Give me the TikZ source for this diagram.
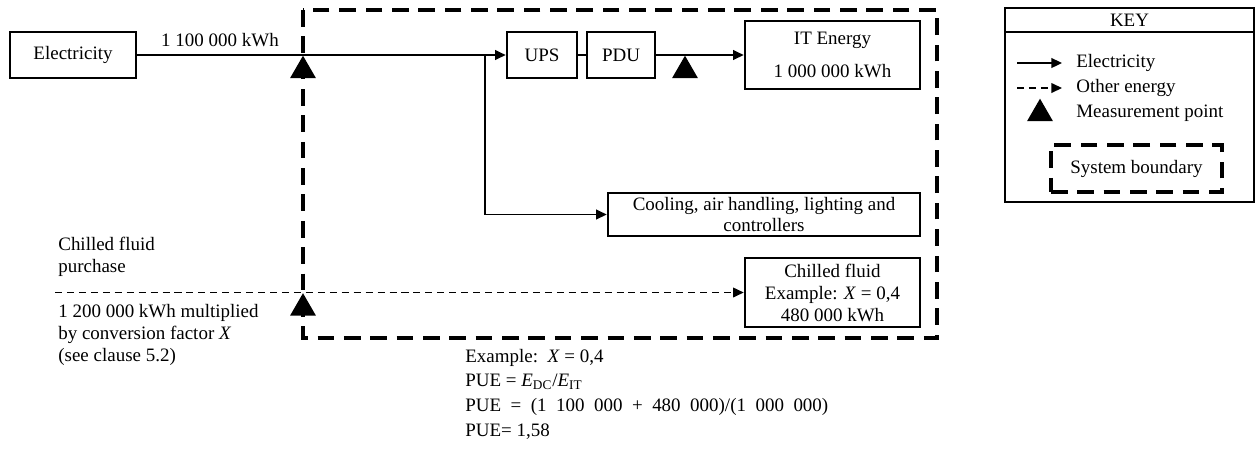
\documentclass[tikz,border=0pt]{standalone}
\usepackage{fontspec}
\setmainfont{Liberation Serif}
\usetikzlibrary{
  arrows.meta,
  positioning,
  shapes.geometric
}

\begin{document}
\begin{tikzpicture}[
  x=0.02cm, y=-0.02cm,
  every node/.style={font=\fontsize{10.8}{12.5}\selectfont},
  box/.style={draw, line width=1.5pt, align=center, inner sep=2pt},
  flow/.style={line width=1.05pt, -{Triangle[length=6pt,width=5.5pt]}},
  other/.style={flow, line width=0.75pt, dash pattern=on 4pt off 2.8pt},
  boundary/.style={line width=2.3pt, dash pattern=on 9.5pt off 5.5pt},
  meter/.style={regular polygon, regular polygon sides=3, fill=black, inner sep=0pt, minimum size=0.6cm, anchor=corner 1},
  txt/.style={align=left, anchor=west, inner sep=0pt}
]
  \useasboundingbox (0,0) rectangle (1259,461);

  % system boundary
  \draw[boundary] (303,10) rectangle (937,338);

  % boxes
  \node[box, minimum width=2.52cm, minimum height=0.92cm] (elec) at (73,55) {Electricity};
  \node[box, minimum width=1.4cm, minimum height=0.92cm] (ups) at (542,55) {UPS};
  \node[box, minimum width=1.36cm, minimum height=0.92cm] (pdu) at (621,55) {PDU};
  \node[box, minimum width=3.5cm, minimum height=1.36cm] (it) at (832.5,55) {IT Energy\\[6pt]1 000 000 kWh};
  \node[box, minimum width=6.24cm, minimum height=0.86cm] (cool) at (764,214.5) {Cooling, air handling, lighting and\\controllers};
  \node[box, minimum width=3.5cm, minimum height=1.38cm] (chill) at (832.5,292.5) {Chilled fluid\\Example: \textit{X} = 0,4\\480 000 kWh};

  % electricity flows
  \coordinate (split) at (485,55);
  \draw[flow] (elec.east) -- (ups.west);
  \node (elecqty) at (220,40) {1 100 000 kWh};
  \draw[line width=1.05pt] (ups.east) -- (pdu.west);
  \draw[flow] (pdu.east) -- (it.west);
  \draw[flow] (split) |- (cool.west);

  % chilled fluid (other energy)
  \coordinate (fluidsrc) at (55,292.5);
  \draw[other] (fluidsrc) -- (chill.west);

  % measurement points
  \node[meter] (m1) at (303,55) {};
  \node[meter] (m2) at (685,55) {};
  \node[meter] (m3) at (303,292.5) {};

  % side notes
  \node[txt] (purchase) at (58,257) {Chilled fluid\\purchase};
  \node[txt] (factor) at (58,335) {1 200 000 kWh multiplied\\by conversion factor \textit{X}\\(see clause 5.2)};
  \node[txt, font=\fontsize{10.8}{14}\selectfont] (pue) at (465,394) {Example:\ \ \textit{X} = 0,4\\PUE = \textit{E}\textsubscript{DC}/\textit{E}\textsubscript{IT}\\{\spaceskip=0.5em PUE = (1 100 000 + 480 000)/(1 000 000)}\\PUE= 1,58};

  % key
  \draw[line width=1.5pt] (1005,8) rectangle (1254,202);
  \draw[line width=1.5pt] (1005,32) -- (1254,32);
  \node (keytitle) at (1129.5,20) {KEY};
  \draw[flow] (1017,63) -- (1062,63);
  \node[txt] (keyelec) at (1076,63) {Electricity};
  \draw[other] (1017,88) -- (1062,88);
  \node[txt] (keyother) at (1076,88) {Other energy};
  \node[meter] (keymeter) at (1040,98) {};
  \node[txt] (keymp) at (1076,113) {Measurement point};
  \node[draw, boundary, minimum width=3.42cm, minimum height=0.94cm] (keybound) at (1136.5,168.5) {System boundary};

\end{tikzpicture}
\end{document}
